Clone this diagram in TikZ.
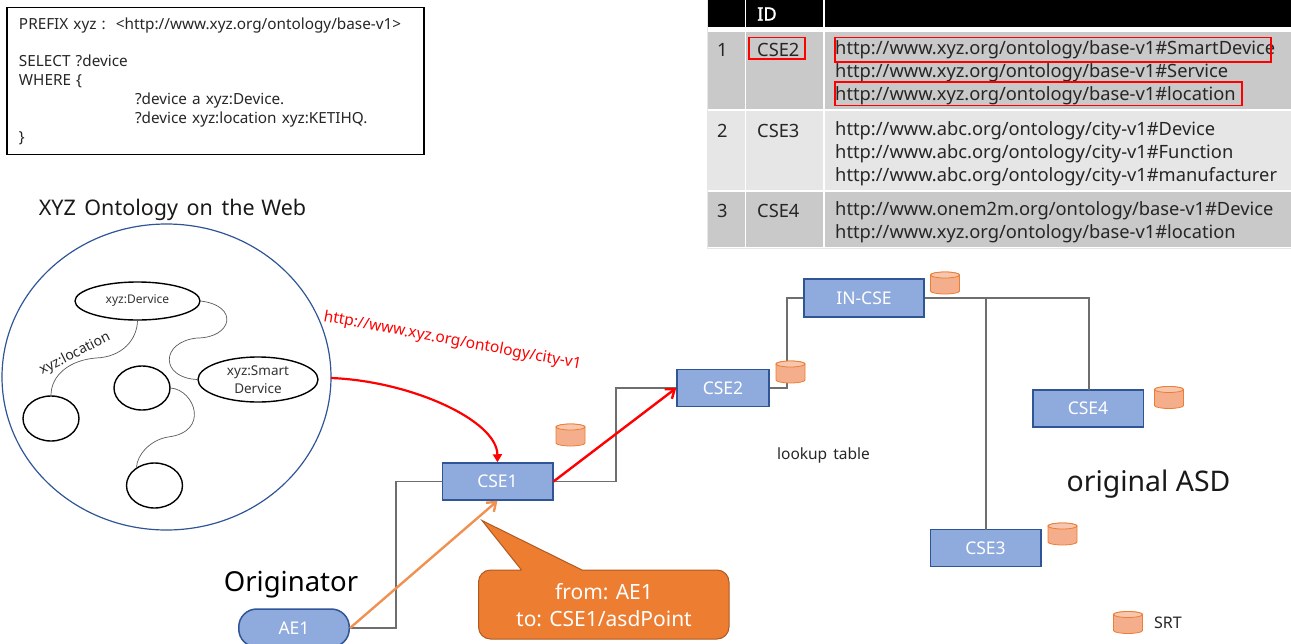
\documentclass[tikz,border=0pt]{standalone}
\usepackage{fontspec}
\setmainfont{Noto Sans}
\newfontfamily\headfont[FakeBold=1.3]{Noto Sans}
\usetikzlibrary{shapes.geometric,arrows.meta}
\definecolor{boxfill}{HTML}{8FAADC}
\definecolor{boxline}{HTML}{2F5597}
\definecolor{srtfill}{HTML}{F4AE8C}
\definecolor{srtline}{HTML}{ED7D31}
\definecolor{calloutfill}{HTML}{ED7D31}
\definecolor{calloutline}{HTML}{AE5A21}
\definecolor{rowdark}{HTML}{C9C9C9}
\definecolor{rowlight}{HTML}{E6E6E6}
\definecolor{wireline}{HTML}{6E6E6E}
\tikzset{
  csebox/.style={draw=boxline, fill=boxfill, line width=1.5pt, text=white, inner sep=0pt, text height=12.5pt, text depth=0pt, font=\fontsize{17.5}{20}\selectfont},
  srtcan/.pic={
    \filldraw[fill=srtfill, draw=srtline, line width=0.8pt] (-14.5,-8) -- (-14.5,8) arc[start angle=180, end angle=360, x radius=14.5pt, y radius=3pt] -- (14.5,-8) arc[start angle=0, end angle=180, x radius=14.5pt, y radius=3pt] -- cycle;
    \filldraw[fill=srtfill!70!white, draw=srtline, line width=0.8pt] (0,-8) ellipse [x radius=14.5pt, y radius=3pt];
  },
  onto/.style={ellipse, draw=black, line width=1.4pt, inner sep=0pt, align=center, text=black!80},
  wire/.style={draw=wireline, line width=1.2pt},
  curve/.style={draw=black!65, line width=0.7pt},
  celltext/.style={anchor=west, inner sep=0pt, align=left, text=black!85, font=\fontsize{18.3}{23}\selectfont},
  hit/.style={draw=red, line width=1.4pt}
}
\begin{document}
\begin{tikzpicture}[x=1pt,y=-1pt]
  \clip (0,0) rectangle (1291,643);
  \filldraw[fill=black, draw=none] (708,0) rectangle (744.5,27);
  \filldraw[fill=black, draw=none] (746,0) rectangle (823,27);
  \filldraw[fill=black, draw=none] (825,0) rectangle (1291,27);
  \filldraw[fill=rowdark, draw=none] (708,32) rectangle (744.5,109);
  \filldraw[fill=rowdark, draw=none] (746,32) rectangle (823,109);
  \filldraw[fill=rowdark, draw=none] (825,32) rectangle (1291,109);
  \filldraw[fill=rowlight, draw=none] (708,111) rectangle (744.5,190);
  \filldraw[fill=rowlight, draw=none] (746,111) rectangle (823,190);
  \filldraw[fill=rowlight, draw=none] (825,111) rectangle (1291,190);
  \filldraw[fill=rowdark, draw=none] (708,192) rectangle (744.5,247);
  \filldraw[fill=rowdark, draw=none] (746,192) rectangle (823,247);
  \filldraw[fill=rowdark, draw=none] (825,192) rectangle (1291,247);
  \draw[draw=rowlight] (707.5,0) -- (707.5,248.5) -- (1291,248.5);
  \node[celltext, text=white] (idhead) at (757,14) {\headfont ID};
  \node[celltext] (rowone) at (717,50) {1};
  \node[celltext] (rowtwo) at (717,131) {2};
  \node[celltext] (rowthree) at (717,211) {3};
  \node[celltext] (idone) at (757,50) {CSE2};
  \node[celltext] (idtwo) at (757,131) {CSE3};
  \node[celltext] (idthree) at (757,211) {CSE4};
  \node[celltext] (urlone) at (835,73) {http://www.xyz.org/ontology/base-v1\#SmartDevice\\http://www.xyz.org/ontology/base-v1\#Service\\http://www.xyz.org/ontology/base-v1\#location};
  \node[celltext] (urltwo) at (835,154) {http://www.abc.org/ontology/city-v1\#Device\\http://www.abc.org/ontology/city-v1\#Function\\http://www.abc.org/ontology/city-v1\#manufacturer};
  \node[celltext] (urlthree) at (835,222.5) {http://www.onem2m.org/ontology/base-v1\#Device\\http://www.xyz.org/ontology/base-v1\#location};
  \draw[hit] (749,37.5) rectangle (805,59);
  \draw[hit] (835,37.5) rectangle (1271,62);
  \draw[hit] (835,82) rectangle (1242,105.5);

  \node[draw=black, line width=1.3pt, minimum width=417pt, minimum height=147pt, text width=393pt, align=left, inner sep=0pt, text=black!85, font=\fontsize{15.3}{18.8}\selectfont] (query) at (215.5,81) {PREFIX xyz :\ \ <http://www.xyz.org/ontology/base-v1>\\[18.8pt]SELECT ?device\\WHERE \{\\\hspace*{116pt}?device a xyz:Device.\\\hspace*{116pt}?device xyz:location xyz:KETIHQ.\\\}};

  \node[font=\fontsize{21.5}{24}\selectfont, text=black!90] (webtitle) at (172.5,209.5) {XYZ\hspace{3pt} Ontology\hspace{3pt} on\hspace{3pt} the\hspace{1pt} Web};
  \node[ellipse, draw=boxline, line width=1.2pt, minimum width=329pt, minimum height=306pt, inner sep=0pt] (web) at (166.5,377) {};
  \node[onto, minimum width=125pt, minimum height=38pt, font=\fontsize{12}{14}\selectfont] (device) at (137.5,301) {xyz:Dervice};
  \node[onto, minimum width=120pt, minimum height=45pt, font=\fontsize{13.5}{17.5}\selectfont] (smart) at (258,379.5) {xyz:Smart\\Dervice};
  \node[onto, minimum width=56pt, minimum height=45pt] (left) at (51,418.5) {};
  \node[onto, minimum width=56pt, minimum height=44pt] (mid) at (142,388) {};
  \node[onto, minimum width=56pt, minimum height=45pt] (low) at (154.5,485.5) {};
  \coordinate (bendone) at (197,338);
  \coordinate (bendtwo) at (96,358);
  \coordinate (bendthree) at (168,437);
  \draw[curve] (device.east) .. controls (240,306) and (232,338) .. (bendone) .. controls (160,342) and (160,378) .. (smart.west);
  \draw[curve] (device.south) .. controls (137,340) and (122,357) .. (bendtwo) .. controls (70,360) and (51,375) .. (left.north);
  \draw[curve] (mid.east) .. controls (195,390) and (210,432) .. (bendthree) .. controls (150,440) and (137,455) .. (low.135);
  \node[rotate=27, font=\fontsize{14}{16}\selectfont, text=black!85] (location) at (75,354) {xyz:location};

  \node[csebox, minimum width=110.5pt, minimum height=37pt] (cseone) at (497.5,481.5) {CSE1};
  \node[csebox, minimum width=92pt, minimum height=37pt] (csetwo) at (723,388) {CSE2};
  \node[csebox, minimum width=120pt, minimum height=38pt] (incse) at (864,298) {IN-CSE};
  \node[csebox, minimum width=110.5pt, minimum height=37pt] (csefour) at (1088,408.5) {CSE4};
  \node[csebox, minimum width=110.5pt, minimum height=37pt] (csethree) at (985.5,548) {CSE3};
  \node[csebox, rounded corners=18pt, minimum width=110.5pt, minimum height=38pt] (aeone) at (294,628) {AE1};

  \draw[wire] (aeone.east) -- (396,628) -- (396,481.5) -- (cseone.west);
  \draw[wire] (cseone.east) -- (616,481.5) -- (616,388) -- (csetwo.west);
  \draw[wire] (csetwo.east) -- (787,388) -- (787,298) -- (incse.west);
  \draw[wire] (incse.east) -- (1089,298) -- (1089,390);
  \draw[wire] (986,298) -- (986,529.5);

  \pic (srtone) at (570.5,435) {srtcan};
  \pic (srttwo) at (790.5,372) {srtcan};
  \pic (srtin) at (945,283) {srtcan};
  \pic (srtfour) at (1169,397.5) {srtcan};
  \pic (srtthree) at (1062.5,534) {srtcan};
  \pic (srtkey) at (1128,622.5) {srtcan};
  \node[font=\fontsize{16}{18}\selectfont, text=black!85] (srtlabel) at (1168,623) {SRT};

  \node[rotate=-10.5, text=red, font=\fontsize{15.5}{18}\selectfont] (baseurl) at (452.5,341) {http://www.xyz.org/ontology/city-v1};
  \coordinate (webright) at (331,378);
  \draw[red, line width=2.2pt, -{Triangle[length=8pt,width=9pt]}] (webright) .. controls (410,381) and (497,420) .. (cseone.north);
  \draw[red, line width=2.4pt, -{Straight Barb[length=8pt,width=12pt]}] (cseone.east) -- (csetwo.west);
  \draw[srtline!85!white, line width=2.4pt, -{Straight Barb[length=8pt,width=12pt]}] (aeone.east) -- (cseone.south);

  \node[font=\fontsize{27.5}{30}\selectfont, text=black] (originator) at (291,585) {Originator};
  \node[font=\fontsize{28.4}{30}\selectfont, text=black!90] (asd) at (1148.5,484) {original ASD};
  \node[font=\fontsize{15.5}{17}\selectfont, text=black!85] (lookup) at (823.5,455) {lookup\hspace{2pt} table};

  \filldraw[fill=calloutfill, draw=calloutline, line width=1pt] (521.5,570) -- (482,520.5) -- (582,570) [rounded corners=12pt] -- (729,570) -- (729,639) -- (478.5,639) -- (478.5,570) -- (521.5,570);
  \node[text=white, align=center, font=\fontsize{21}{27}\selectfont] (message) at (604,605) {from: AE1\\to: CSE1/asdPoint};
\end{tikzpicture}
\end{document}
